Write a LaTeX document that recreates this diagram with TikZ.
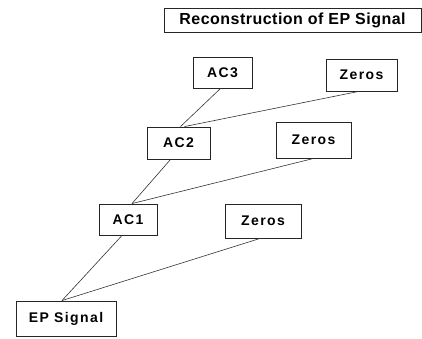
\documentclass[tikz,border=0pt]{standalone}
\usepackage{fontspec}
\newfontfamily\boxfont{Liberation Sans}[LetterSpace=10]
\newfontfamily\titlefont{Liberation Sans}[LetterSpace=3]

\begin{document}
\begin{tikzpicture}[x=1pt,y=-1pt,
  blk/.style={draw=black!85,line width=0.9pt,inner sep=0pt,
    font=\boxfont\bfseries\fontsize{14}{16}\selectfont},
  link/.style={line width=0.6pt,black!80}]

\useasboundingbox (0,0) rectangle (422,338);

% Title
\node[blk,minimum width=257,minimum height=24,
  font=\titlefont\bfseries\fontsize{16}{18}\selectfont] (title) at (292.5,20) {Reconstruction of EP Signal};

% Approximation levels
\node[blk,minimum width=59,minimum height=31] (ac3) at (222.5,72.5) {AC3};
\node[blk,minimum width=63,minimum height=32] (ac2) at (178.5,143) {AC2};
\node[blk,minimum width=58,minimum height=31] (ac1) at (128,219.5) {AC1};
\node[blk,minimum width=100,minimum height=35] (ep) at (66,318.5) {EP Signal};

% Zero details
\node[blk,minimum width=71,minimum height=32] (z3) at (361.5,75) {Zeros};
\node[blk,minimum width=75,minimum height=36] (z2) at (313.5,140) {Zeros};
\node[blk,minimum width=76,minimum height=34] (z1) at (263,221) {Zeros};

% Connections
\draw[link] ([xshift=-2]ac3.south) -- ([xshift=2]ac2.north);
\draw[link] ([xshift=-3]z3.south) -- ([xshift=6]ac2.north);
\draw[link] ([xshift=-8]ac2.south) -- ([xshift=4]ac1.north);
\draw[link] (z2.south) -- ([xshift=4]ac1.north);
\draw[link] ([xshift=-6]ac1.south) -- ([xshift=-4]ep.north);
\draw[link] ([xshift=-3]z1.south) -- ([xshift=-4]ep.north);

\end{tikzpicture}
\end{document}
